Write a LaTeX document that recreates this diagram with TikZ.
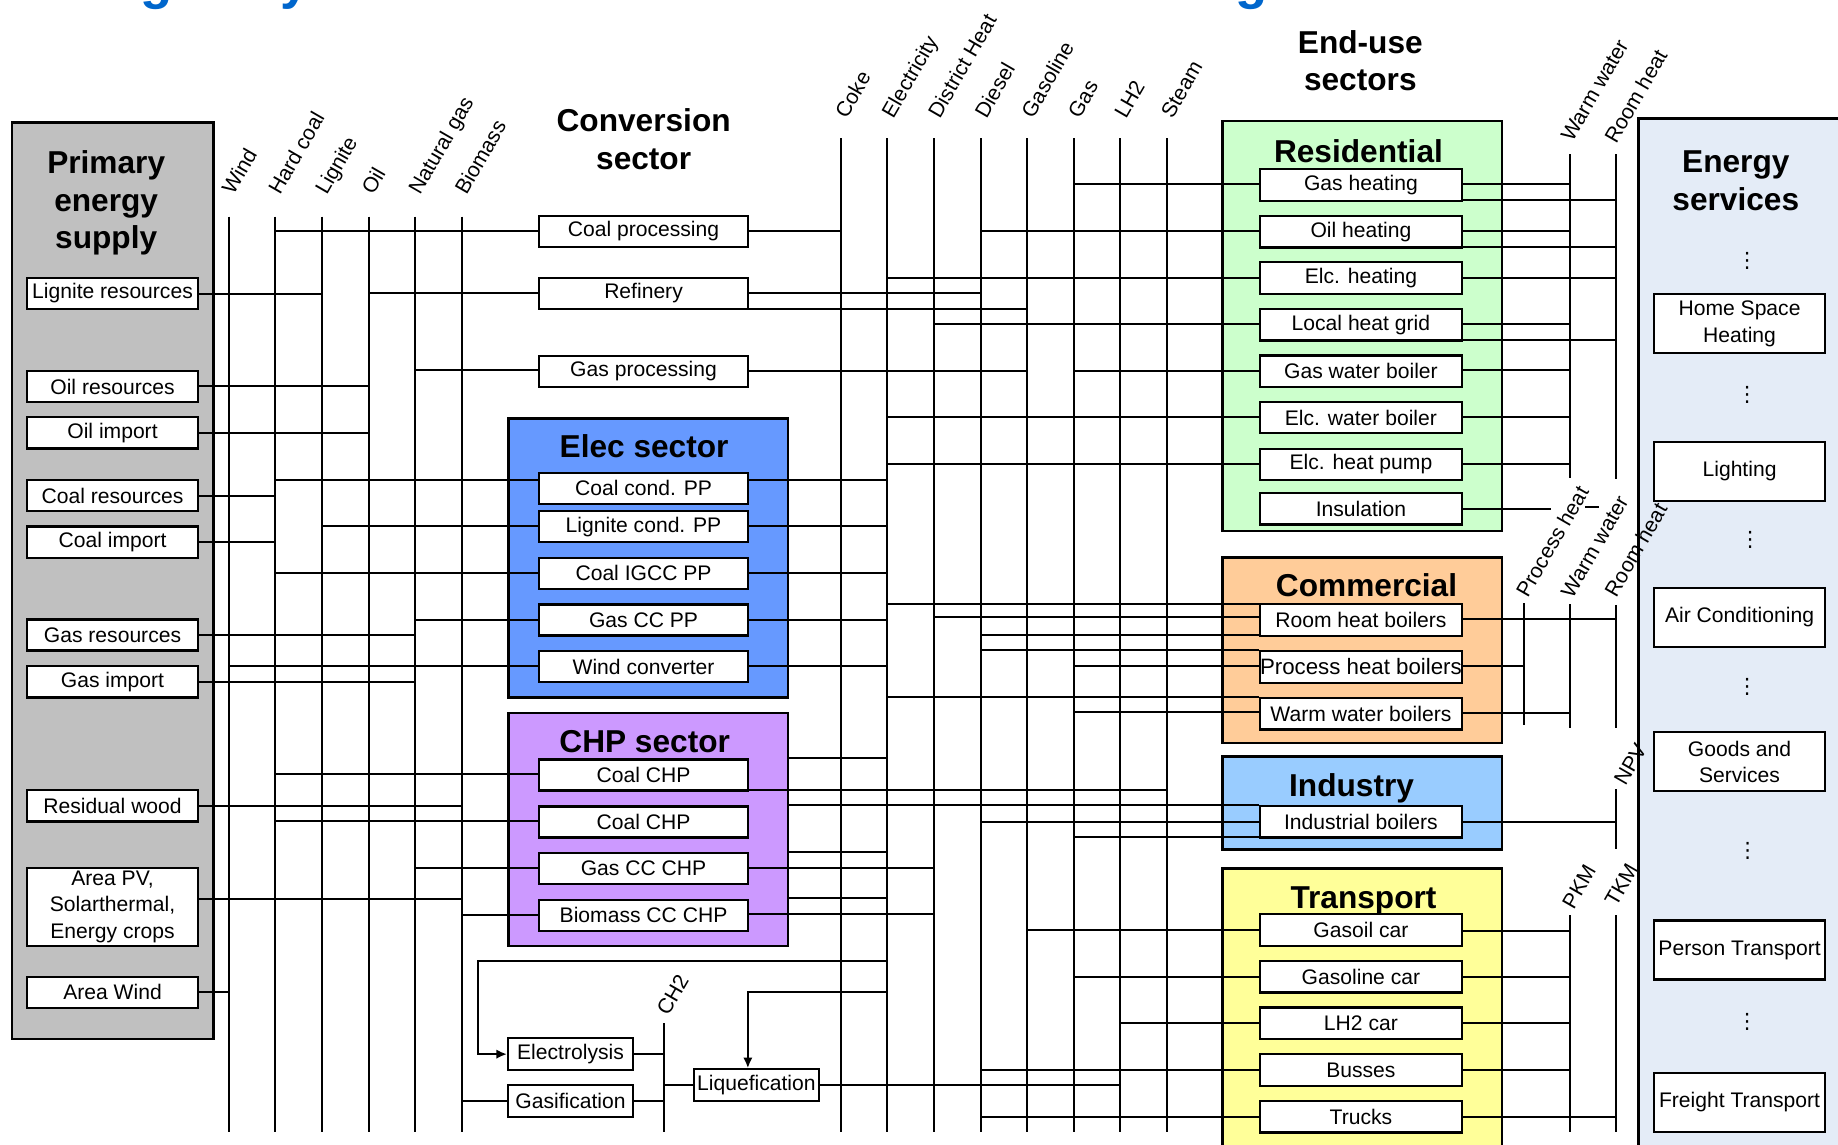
\documentclass[tikz,border=0pt]{standalone}
\usepackage{fontspec}
\setmainfont{Liberation Sans}
\newfontfamily\symfont{DejaVu Sans}
\usetikzlibrary{arrows.meta}

\definecolor{supplygray}{HTML}{C0C0C0}
\definecolor{elecblue}{HTML}{6699FF}
\definecolor{chppurple}{HTML}{CC99FF}
\definecolor{resgreen}{HTML}{CCFFCC}
\definecolor{comorange}{HTML}{FFCC99}
\definecolor{indblue}{HTML}{99CCFF}
\definecolor{trayellow}{HTML}{FFFF99}
\definecolor{svcblue}{HTML}{E4ECF7}
\definecolor{titleblue}{HTML}{0066CC}

\newcommand\bodyfs{\fontsize{18}{22.5}\selectfont}
\newcommand\headfs{\fontsize{27}{32}\selectfont\bfseries}
% horizontal connector at height #3 between the x positions of #1 and #2
\newcommand\wireh[3]{\draw[wire] (#1 |- 0,#3) -- (#2 |- 0,#3);}

\begin{document}
\begin{tikzpicture}[x=1pt,y=-1pt,
  wire/.style={line width=1.7pt},
  group/.style={draw=black,line width=2pt,inner sep=0pt},
  box/.style={draw=black,line width=1.9pt,fill=white,inner sep=0pt,font=\bodyfs,align=center},
  src/.style={box,minimum width=146pt,minimum height=26.5pt},
  conv/.style={box,minimum width=178pt,minimum height=26.5pt},
  aux/.style={box,minimum width=106.6pt,minimum height=27pt},
  enduse/.style={box,minimum width=172.5pt,minimum height=27pt},
  svc/.style={box,minimum width=146.4pt,minimum height=50.3pt},
  head/.style={font=\headfs,align=center,inner sep=0pt},
  lbl/.style={rotate=60,anchor=base west,inner sep=0pt,font=\bodyfs},
  vdot/.style={font=\symfont\fontsize{18}{20}\selectfont,inner sep=0pt},
  frag/.style={text=titleblue,font=\fontsize{45}{50}\selectfont\bfseries,inner sep=0pt,anchor=base},
]
\useasboundingbox (0,0) rectangle (1568,976);
\fill[white] (0,0) rectangle (1568,976);

% heading letters cut by the top edge
\begin{scope}
  \clip (0,0) rectangle (1568,976);
  \node[frag] (fragA) at (134,-1.5) {g};
  \node[frag] (fragB) at (252,-1.5) {y};
  \node[frag] (fragC) at (1068,-1.5) {g};
\end{scope}

% ---------- sector frames ----------
\node[group,fill=supplygray,minimum width=172.1pt,minimum height=782pt] (supply) at (96.15,495.4) {};
\node[group,fill=elecblue,minimum width=238.8pt,minimum height=238pt] (elecsec) at (553.1,475.9) {};
\node[group,fill=chppurple,minimum width=238.8pt,minimum height=198.3pt] (chpsec) at (553.1,707.65) {};
\node[group,fill=resgreen,minimum width=238.5pt,minimum height=350pt] (resid) at (1162.05,278) {};
\node[group,fill=comorange,minimum width=238.5pt,minimum height=158.4pt] (comm) at (1162.05,554.9) {};
\node[group,fill=indblue,minimum width=238.5pt,minimum height=79.1pt] (indus) at (1162.05,685.05) {};
\node[group,fill=trayellow,minimum width=238.5pt,minimum height=279.2pt] (transp) at (1162.05,880.4) {};
\node[group,fill=svcblue,minimum width=222.1pt,minimum height=919pt] (services) at (1508.95,560.5) {};

% ---------- headings ----------
\node[head] (hPrimary) at (90.6,173.2) {Primary\\energy\\supply};
\node[head] (hConv) at (549.1,118.6) {Conversion\\sector};
\node[head,anchor=base] (hElec) at (549.5,390.5) {Elec sector};
\node[head,anchor=base] (hChp) at (550,642) {CHP sector};
\node[head] (hEnduse) at (1160.5,51.75) {End-use\\sectors};
\node[head,anchor=base] (hRes) at (1158.9,138.5) {Residential};
\node[head,anchor=base] (hCom) at (1165.8,509) {Commercial};
\node[head,anchor=base] (hInd) at (1153,679.6) {Industry};
\node[head,anchor=base] (hTra) at (1163.2,775) {Transport};
\node[head] (hSvc) at (1480.8,154.4) {Energy\\services};

% ---------- primary supply ----------
\node[src] (lig) at (96,250.4) {Lignite resources};
\node[src] (oilres) at (96,329.7) {Oil resources};
\node[src] (oilimp) at (96,369.3) {Oil import};
\node[src] (coalres) at (96,422.7) {Coal resources};
\node[src] (coalimp) at (96,462.5) {Coal import};
\node[src] (gasres) at (96,541.7) {Gas resources};
\node[src] (gasimp) at (96,581.7) {Gas import};
\node[src] (resw) at (96,687.5) {Residual wood};
\node[src,minimum height=66.6pt] (area) at (96,773.5) {Area PV,\\Solarthermal,\\Energy crops};
\node[src] (areawind) at (96,846.5) {Area Wind};

% ---------- conversion ----------
\node[conv] (coalproc) at (549,197.5) {Coal processing};
\node[conv] (refinery) at (549,250.4) {Refinery};
\node[conv] (gasproc) at (549,316.9) {Gas processing};
\node[conv] (coalcond) at (549,416.5) {Coal cond. PP};
\node[conv] (ligcond) at (549,449.3) {Lignite cond. PP};
\node[conv] (igcc) at (549,489.1) {Coal IGCC PP};
\node[conv] (gascc) at (549,528.9) {Gas CC PP};
\node[conv] (windconv) at (549,568.6) {Wind converter};
\node[conv] (chp1) at (549,661.2) {Coal CHP};
\node[conv] (chp2) at (549,701.2) {Coal CHP};
\node[conv] (gaschp) at (549,741) {Gas CC CHP};
\node[conv] (biochp) at (549,780.9) {Biomass CC CHP};
\node[aux] (ely) at (486.7,899.3) {Electrolysis};
\node[aux] (gasif) at (486.7,939.1) {Gasification};
\node[aux] (liq) at (645.3,925.7) {Liquefication};

% ---------- end-use ----------
\node[enduse] (gasheat) at (1161,157.8) {Gas heating};
\node[enduse] (oilheat) at (1161,197.6) {Oil heating};
\node[enduse] (elcheat) at (1161,237.3) {Elc. heating};
\node[enduse] (lhgrid) at (1161,277) {Local heat grid};
\node[enduse] (gaswb) at (1161,316.7) {Gas water boiler};
\node[enduse] (elcwb) at (1161,356.2) {Elc. water boiler};
\node[enduse] (hpump) at (1161,396.3) {Elc. heat pump};
\node[enduse] (insul) at (1161,434) {Insulation};
\node[enduse] (roomb) at (1161,528.9) {Room heat boilers};
\node[enduse,font=\fontsize{19}{22}\selectfont] (procb) at (1161,569) {Process heat boilers};
\node[enduse] (wwb) at (1161,608.9) {Warm water boilers};
\node[enduse] (indboil) at (1161,701) {Industrial boilers};
\node[enduse] (gasoil) at (1161,793.4) {Gasoil car};
\node[enduse] (gasolcar) at (1161,833.2) {Gasoline car};
\node[enduse] (lh2car) at (1161,873) {LH2 car};
\node[enduse] (busses) at (1161,912.8) {Busses};
\node[enduse] (trucks) at (1161,952.6) {Trucks};

% ---------- energy services ----------
\node[svc] (homesh) at (1484,276.2) {Home Space\\Heating};
\node[svc] (light) at (1484,402) {Lighting};
\node[svc] (aircon) at (1484,526.8) {Air Conditioning};
\node[svc] (goods) at (1484,649.8) {Goods and\\Services};
\node[svc] (person) at (1484,810.5) {Person Transport};
\node[svc] (freight) at (1484,940.3) {Freight Transport};
\node[vdot] (dots1) at (1490.5,223) {⋮};
\node[vdot] (dots2) at (1490.5,337) {⋮};
\node[vdot] (dots3) at (1493,460.7) {⋮};
\node[vdot] (dots4) at (1490.5,585.8) {⋮};
\node[vdot] (dots5) at (1491,725.6) {⋮};
\node[vdot] (dots6) at (1490.5,871.9) {⋮};

% ---------- carrier buses ----------
\foreach \n/\x in {wind/195.3,hcoal/234.9,lign/274.8,oil/314.4,ngas/354.4,bio/393.9}{
  \coordinate (\n) at (\x,184.8);
  \coordinate (\n-end) at (\x,965.4);
  \draw[wire] (\n) -- (\n-end);
}
\foreach \n/\x in {coke/717.3,elec/757,dh/796.7,diesel/836.5,gasol/876.2,gas/915.9,lh2/955.6,steam/995.3}{
  \coordinate (\n) at (\x,118);
  \coordinate (\n-end) at (\x,965.4);
  \draw[wire] (\n) -- (\n-end);
}
\coordinate (ch2) at (566.1,873);      \coordinate (ch2-end) at (566.1,965.4);
\coordinate (rww) at (1339.5,131.4);   \coordinate (rww-end) at (1339.5,407.5);
\coordinate (rrh) at (1378.8,131.4);   \coordinate (rrh-end) at (1378.8,408.6);
\coordinate (cph) at (1300.4,514.7);   \coordinate (cph-end) at (1300.4,618.5);
\coordinate (cww) at (1339.5,515.4);   \coordinate (cww-end) at (1339.5,621.3);
\coordinate (crh) at (1378.8,516);     \coordinate (crh-end) at (1378.8,621);
\coordinate (npv) at (1378.8,673.4);   \coordinate (npv-end) at (1378.8,724.5);
\coordinate (pkm) at (1339.5,780.6);   \coordinate (pkm-end) at (1339.5,965.4);
\coordinate (tkm) at (1378.8,780.6);   \coordinate (tkm-end) at (1378.8,965.4);
\foreach \n in {ch2,rww,rrh,cph,cww,crh,npv,pkm,tkm}{\draw[wire] (\n) -- (\n-end);}

% ---------- supply to primary carriers ----------
\wireh{lig.east}{lign}{250.4}
\wireh{oilres.east}{oil}{329.7}
\wireh{oilimp.east}{oil}{369.3}
\wireh{coalres.east}{hcoal}{422.9}
\wireh{coalimp.east}{hcoal}{462.7}
\wireh{gasres.east}{ngas}{541.7}
\wireh{gasimp.east}{ngas}{581.5}
\wireh{resw.east}{bio}{687.3}
\wireh{area.east}{bio}{767.2}
\wireh{areawind.east}{wind}{846.5}

% ---------- conversion inputs ----------
\wireh{hcoal}{coalproc.west}{197.1}
\wireh{oil}{refinery.west}{250.2}
\wireh{ngas}{gasproc.west}{315.9}
\wireh{hcoal}{coalcond.west}{409.5}
\wireh{lign}{ligcond.west}{448.9}
\wireh{hcoal}{igcc.west}{488.6}
\wireh{ngas}{gascc.west}{528.5}
\wireh{wind}{windconv.west}{568.1}
\wireh{hcoal}{chp1.west}{660.6}
\wireh{hcoal}{chp2.west}{700.4}
\wireh{ngas}{gaschp.west}{740.8}
\wireh{bio}{biochp.west}{780.2}
\wireh{bio}{gasif.west}{939.1}

% ---------- conversion outputs ----------
\wireh{coalproc.east}{coke}{197.1}
\wireh{refinery.east}{diesel}{250.2}
\wireh{refinery.east}{gasol}{263.8}
\wireh{gasproc.east}{gasol}{316.5}
\wireh{coalcond.east}{elec}{409.5}
\wireh{ligcond.east}{elec}{449.1}
\wireh{igcc.east}{elec}{488.7}
\wireh{gascc.east}{elec}{528.6}
\wireh{windconv.east}{elec}{568.3}
\wireh{chpsec.east}{elec}{646.9}
\wireh{chp1.east}{steam}{674}
\wireh{chpsec.east}{indboil.west}{686.5}
\wireh{chpsec.east}{elec}{727.2}
\wireh{gaschp.east}{dh}{740.2}
\wireh{chpsec.east}{elec}{766.4}
\wireh{biochp.east}{dh}{780}
\wireh{ely.east}{ch2}{899.4}
\wireh{gasif.east}{ch2}{939.3}
\wireh{ch2}{liq.west}{925.6}
\wireh{liq.east}{lh2}{925.6}

\coordinate (elyturn) at (407.4,819.9);
\draw[wire,-{Latex[length=9pt,width=8pt]}] (elec |- elyturn) -- (elyturn) |- (ely.west);
\coordinate (liqturn) at (638,846.5);
\draw[wire,-{Latex[length=9pt,width=8pt]}] (elec |- liqturn) -- (liqturn) -- (liqturn |- liq.north);

% ---------- end-use inputs ----------
\wireh{gas}{gasheat.west}{157.3}
\wireh{diesel}{oilheat.west}{197.1}
\wireh{elec}{elcheat.west}{236.9}
\wireh{dh}{lhgrid.west}{276.7}
\wireh{gas}{gaswb.west}{316.5}
\wireh{elec}{elcwb.west}{356}
\wireh{elec}{hpump.west}{396.1}
\wireh{elec}{roomb.west}{515}
\wireh{dh}{roomb.west}{526.1}
\wireh{diesel}{roomb.west}{541.7}
\wireh{diesel}{procb.west}{554.8}
\wireh{gas}{procb.west}{567.9}
\wireh{elec}{wwb.west}{594.3}
\wireh{gas}{wwb.west}{607.7}
\wireh{diesel}{indboil.west}{701}
\wireh{gas}{indboil.west}{713.8}
\wireh{gasol}{gasoil.west}{793.4}
\wireh{gas}{gasolcar.west}{833.2}
\wireh{lh2}{lh2car.west}{873}
\wireh{diesel}{busses.west}{912.8}
\wireh{diesel}{trucks.west}{952.6}

% ---------- end-use outputs ----------
\wireh{gasheat.east}{rww}{157.3}
\wireh{gasheat.east}{rrh}{170.6}
\wireh{oilheat.east}{rww}{197.1}
\wireh{oilheat.east}{rrh}{210.5}
\wireh{elcheat.east}{rrh}{236.9}
\wireh{lhgrid.east}{rww}{276.7}
\wireh{lhgrid.east}{rrh}{290}
\wireh{gaswb.east}{rww}{315.7}
\wireh{elcwb.east}{rww}{356}
\wireh{hpump.east}{rww}{395.8}
\coordinate (insgap) at (1323,434.2);
\wireh{insul.east}{insgap}{434.2}
\coordinate (insdashA) at (1352,432.8);
\coordinate (insdashB) at (1364,432.8);
\draw[wire] (insdashA) -- (insdashB);
\wireh{roomb.east}{crh}{528.3}
\wireh{procb.east}{cph}{567.9}
\wireh{wwb.east}{cww}{608.5}
\wireh{indboil.east}{npv}{701}
\wireh{gasoil.east}{pkm}{794}
\wireh{gasolcar.east}{pkm}{833.7}
\wireh{lh2car.east}{pkm}{873}
\wireh{busses.east}{pkm}{912.8}
\wireh{trucks.east}{tkm}{953.2}

% ---------- carrier labels ----------
\foreach \n/\t in {wind/Wind,hcoal/Hard coal,lign/Lignite,oil/Oil,ngas/Natural gas,bio/Biomass}{
  \node[lbl] (lab-\n) at ([shift={(4,-17.5)}]\n) {\t};
}
\foreach \n/\t in {coke/Coke,elec/Electricity,dh/District Heat,diesel/Diesel,gasol/Gasoline,gas/Gas,lh2/LH2,steam/Steam}{
  \node[lbl] (lab-\n) at ([shift={(5,-16)}]\n) {\t};
}
\node[lbl] (lab-ch2) at ([shift={(4,-5.4)}]ch2) {CH2};
\node[lbl] (lab-rww) at ([shift={(2,-9.4)}]rww) {Warm water};
\node[lbl] (lab-rrh) at ([shift={(0,-7.6)}]rrh) {Room heat};
\node[lbl] (lab-cph) at ([shift={(3,-4)}]cph) {Process heat};
\node[lbl] (lab-cww) at ([shift={(2,-4)}]cww) {Warm water};
\node[lbl] (lab-crh) at ([shift={(0,-5.5)}]crh) {Room heat};
\node[lbl] (lab-npv) at ([shift={(8,-2)}]npv) {NPV};
\node[lbl] (lab-pkm) at ([shift={(3,-4)}]pkm) {PKM};
\node[lbl] (lab-tkm) at ([shift={(0,-6)}]tkm) {TKM};
\end{tikzpicture}
\end{document}
